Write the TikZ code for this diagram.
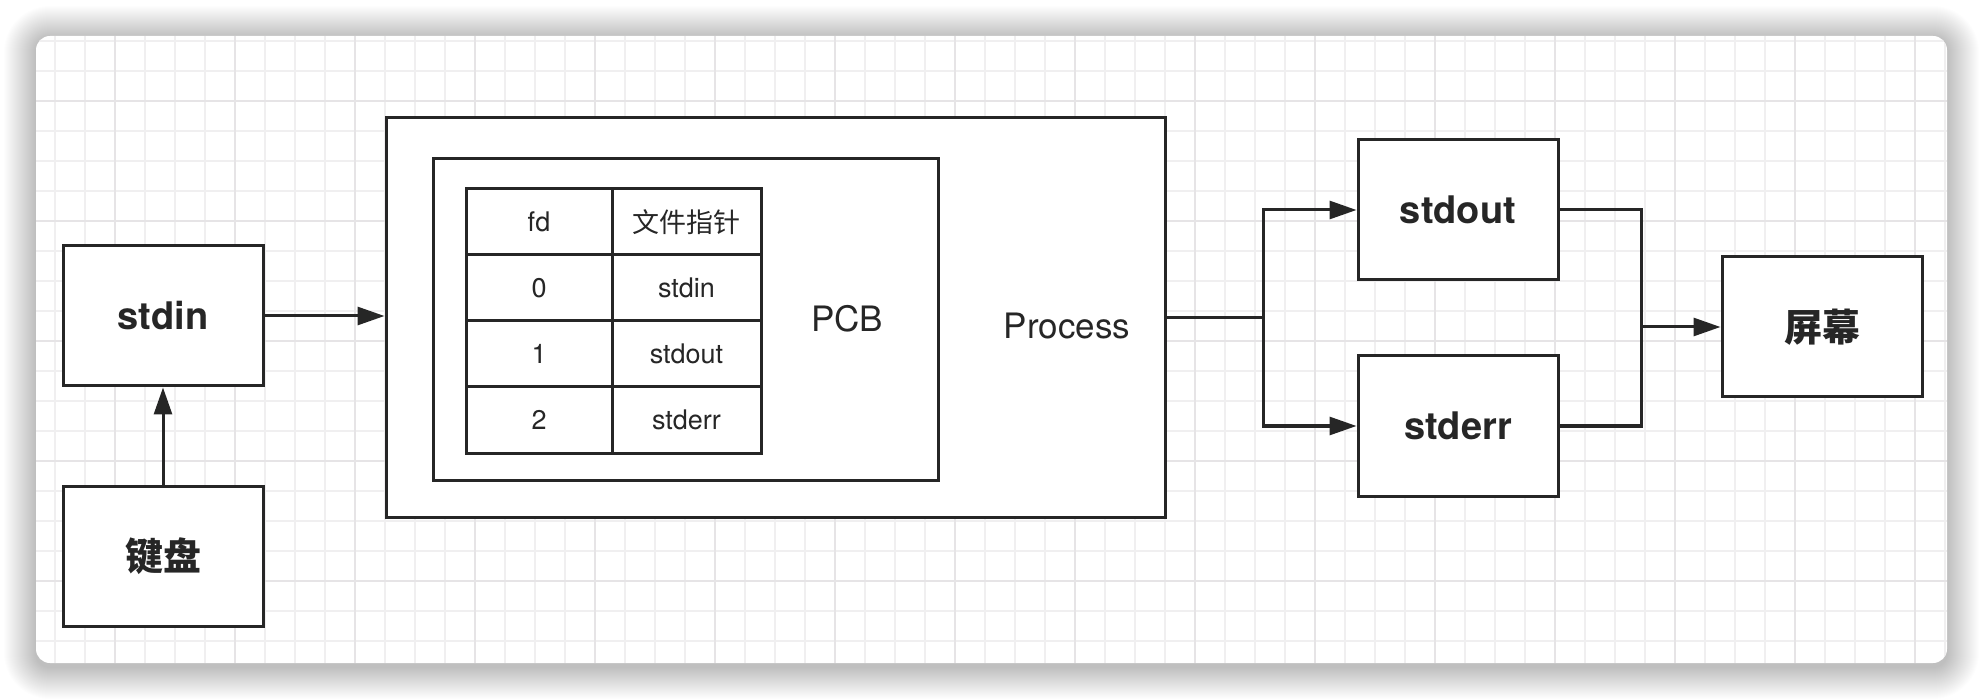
\documentclass[tikz,border=0pt]{standalone}
\usepackage{fontspec}
\setmainfont{TeX Gyre Heros}
\newfontfamily\cjk{Noto Sans CJK SC}
\usetikzlibrary{arrows.meta}
\definecolor{ink}{HTML}{262626}
\definecolor{gridminor}{HTML}{F0EFF0}
\definecolor{gridmajor}{HTML}{E6E4E6}
\tikzset{
  box/.style={draw=ink, line width=3pt, fill=white, minimum width=200pt,
    minimum height=140pt, inner sep=0pt, text=ink,
    font=\bfseries\fontsize{38}{40}\selectfont},
  frame/.style={draw=ink, line width=3pt, fill=white, inner sep=0pt},
  cell/.style={draw=ink, line width=3pt, minimum height=66pt, inner sep=0pt,
    text=ink, font=\fontsize{27}{30}\selectfont},
  lbl/.style={text=ink, inner sep=0pt, font=\fontsize{35}{38}\selectfont},
  arr/.style={draw=ink, line width=3pt, -{Triangle[length=27pt,width=18pt]}},
  wire/.style={draw=ink, line width=3pt}
}
\begin{document}
\begin{tikzpicture}[x=1pt,y=-1pt]
\useasboundingbox (0,0) rectangle (1984,700);
\fill[white] (0,0) rectangle (1984,700);
\foreach \i in {1,...,32}{
\fill[black, opacity=0.006, rounded corners={14+\i}]
  ({36-\i},{38-\i}) rectangle ({1947+\i},{667+\i});
}
\fill[white, rounded corners=14] (36,36) rectangle (1947,663);
\begin{scope}
\clip[rounded corners=14] (36,36) rectangle (1947,663);
\foreach \x in {55,85,...,1945}{
\draw[gridminor, line width=2pt] (\x,36) -- (\x,663);
}
\foreach \y in {41,71,...,641}{
\draw[gridminor, line width=2pt] (36,\y) -- (1947,\y);
}
\foreach \x in {115,235,...,1945}{
\draw[gridmajor, line width=2pt] (\x,36) -- (\x,663);
}
\foreach \y in {101,221,...,641}{
\draw[gridmajor, line width=2pt] (36,\y) -- (1947,\y);
}
\end{scope}

\node[box] (stdin) at (163,316) {stdin};
\node[box] (kbd) at (163,556) {\cjk 键盘};

\node[frame, minimum width=779pt, minimum height=399pt] (process) at (775.5,317.5) {};
\node[frame, minimum width=505pt, minimum height=321pt] (pcb) at (685.5,319.5) {};
\node[cell, minimum width=146pt] (fdh) at (539,222) {fd};
\node[cell, minimum width=149pt] (fph) at (686.5,222) {\cjk 文件指针};
\node[cell, minimum width=146pt] (fd0) at (539,288) {0};
\node[cell, minimum width=149pt] (fp0) at (686.5,288) {stdin};
\node[cell, minimum width=146pt] (fd1) at (539,354) {1};
\node[cell, minimum width=149pt] (fp1) at (686.5,354) {stdout};
\node[cell, minimum width=146pt] (fd2) at (539,420) {2};
\node[cell, minimum width=149pt] (fp2) at (686.5,420) {stderr};
\node[lbl] (pcblbl) at (847,319) {PCB};
\node[lbl] (proclbl) at (1067,326) {Process};

\node[box] (stdout) at (1458,210) {stdout};
\node[box] (stderr) at (1458,426) {stderr};
\node[box] (screen) at (1822,327) {\cjk 屏幕};
\coordinate (split) at (1263,317.5);
\coordinate (join) at (1641,327);

\draw[arr] (kbd) -- (stdin);
\draw[arr] (stdin.east) -- (stdin.east -| process.west);
\draw[wire] (process.east) -- (split);
\draw[arr] (split) |- (stdout.west);
\draw[arr] (split) |- (stderr.west);
\draw[wire] (stdout.east) -| (join) |- (stderr.east);
\draw[arr] (join) -- (screen.west);
\end{tikzpicture}
\end{document}
